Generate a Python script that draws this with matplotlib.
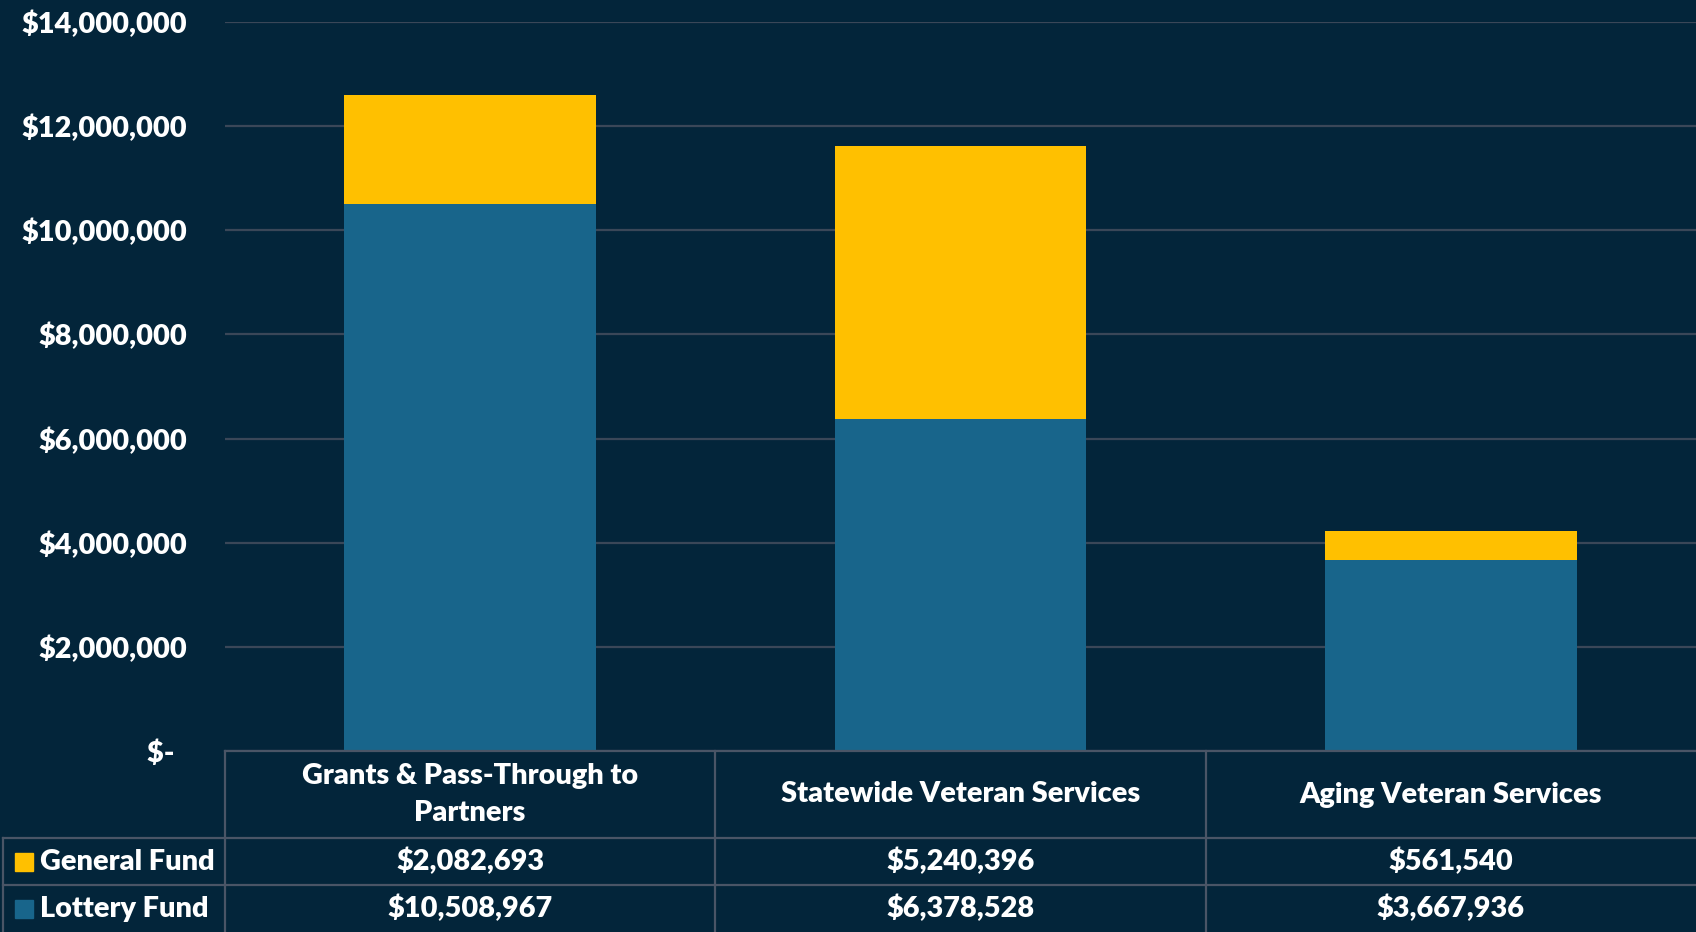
import matplotlib
matplotlib.use("Agg")
import matplotlib.pyplot as plt

categories = ["Grants & Pass-Through to\nPartners", "Statewide Veteran Services", "Aging Veteran Services"]
series_names = ["General Fund", "Lottery Fund"]
general_fund = [2082693, 5240396, 561540]
lottery_fund = [10508967, 6378528, 3667936]
y_ticks = [0, 2000000, 4000000, 6000000, 8000000, 10000000, 12000000, 14000000]

BG = "#03253a"
GOLD = "#ffc000"
BLUE = "#18658b"
GRID = "#3a4758"
LINE = "#4a5566"

plt.rcParams['font.family'] = ['Lato', 'DejaVu Sans']
WEIGHT = 'heavy'
FS = 20.8

W, H = 1696, 932
fig = plt.figure(figsize=(W / 100, H / 100), dpi=100, facecolor=BG)

x0, x1 = 225, 1696
y_top, y_zero = 22, 751
ax = fig.add_axes([x0 / W, 1 - y_zero / H, (x1 - x0) / W, (y_zero - y_top) / H])
ax.set_facecolor(BG)

xs = list(range(len(categories)))
ax.bar(xs, lottery_fund, width=0.513, color=BLUE, zorder=3)
ax.bar(xs, general_fund, width=0.513, bottom=lottery_fund, color=GOLD, zorder=3)

ax.set_xlim(-0.5, len(categories) - 0.5)
ax.set_ylim(0, 14000000)
ax.set_yticks(y_ticks)
ax.set_yticklabels(["$-  " if v == 0 else "${:,.0f}".format(v) for v in y_ticks])
ax.tick_params(axis='y', length=0, pad=27, labelsize=FS, labelcolor='white')
for lab in ax.get_yticklabels():
    lab.set_fontweight(WEIGHT)
ax.set_xticks([])
ax.grid(axis='y', color=GRID, linewidth=1.6, zorder=0)
for s in ax.spines.values():
    s.set_visible(False)

# data table below the plot
def fx(px):
    return px / W

def fy(py):
    return 1 - py / H

col_edges = [x0 + i * (x1 - x0) / len(categories) for i in range(len(categories) + 1)]
row_edges = [751, 838, 885, 932]
lw = 1.6

fig.add_artist(plt.Line2D([fx(x0), fx(x1)], [fy(row_edges[0])] * 2, color=LINE, lw=lw))
for r in row_edges[1:3]:
    fig.add_artist(plt.Line2D([fx(3), fx(x1)], [fy(r)] * 2, color=LINE, lw=lw))
for c in col_edges[:-1]:
    fig.add_artist(plt.Line2D([fx(c)] * 2, [fy(row_edges[0]), fy(H)], color=LINE, lw=lw))
fig.add_artist(plt.Line2D([fx(3)] * 2, [fy(row_edges[1]), fy(H)], color=LINE, lw=lw))

for i, cat in enumerate(categories):
    cx = (col_edges[i] + col_edges[i + 1]) / 2
    fig.text(fx(cx), fy((row_edges[0] + row_edges[1]) / 2), cat, ha='center', va='center',
             color='white', fontsize=FS, fontweight=WEIGHT, linespacing=1.55)
    for r, vals in enumerate([general_fund, lottery_fund]):
        cy = (row_edges[r + 1] + row_edges[r + 2]) / 2
        fig.text(fx(cx), fy(cy), "${:,.0f}".format(vals[i]), ha='center', va='center',
                 color='white', fontsize=FS, fontweight=WEIGHT)

for r, (name, col) in enumerate(zip(series_names, [GOLD, BLUE])):
    cy = (row_edges[r + 1] + row_edges[r + 2]) / 2
    fig.add_artist(plt.Rectangle((fx(15), fy(cy + 9)), 18 / W, 18 / H, color=col))
    fig.text(fx(40), fy(cy), name, ha='left', va='center',
             color='white', fontsize=FS, fontweight=WEIGHT)

fig.savefig("out.png", dpi=100, facecolor=BG)
